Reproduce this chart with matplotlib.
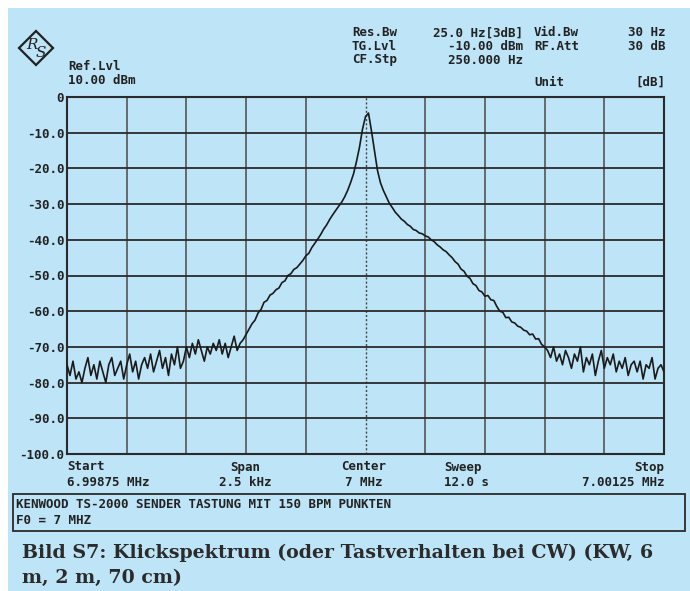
import matplotlib
matplotlib.use("Agg")
import matplotlib.pyplot as plt
import numpy as np
from matplotlib.patches import Rectangle, Polygon

# Sweep settings (offset from 7 MHz, Hz)
start_hz = -1250.0
stop_hz = 1250.0

# Trace levels in dB at 12.5 Hz steps (201 points)
levels = [
    -75, -78, -74, -79, -77, -80, -76, -73, -78, -75,
    -79, -74, -77, -80, -75, -73, -78, -76, -74, -79,
    -75, -72, -77, -74, -79, -75, -73, -76, -72, -77,
    -74, -71, -76, -73, -78, -72, -75, -70, -76, -74,
    -70, -73, -69, -72, -68, -71, -74, -70, -72, -69,
    -71, -68, -72, -69, -73, -70, -67, -71, -69, -68,
    -66.5, -65, -63.5, -62.5, -60.5, -59.5, -57.5, -57, -55.5, -55,
    -54, -53.5, -52, -51.5, -50, -49.5, -48.3, -47.8, -46.8, -45.8,
    -44.5, -43.8, -42.2, -41, -39.8, -38.5, -37, -35.8, -34.3, -33,
    -31.8, -30.6, -29.5, -28, -26.2, -24, -21.5, -18, -14, -9,
    -5.5, -4.5, -9.5, -15, -20.5, -24, -26.2, -28, -29.8, -31,
    -32.3, -33.2, -34.2, -34.8, -35.7, -36.2, -37.1, -37.4, -38.1, -38.3,
    -38.9, -39.2, -40, -40.5, -41.4, -42, -42.8, -43.3, -44.2, -45,
    -46.1, -46.8, -48.2, -48.8, -50.2, -50.8, -52.3, -52.8, -54.2, -54.6,
    -55.8, -55.6, -56.8, -57, -58.7, -60, -60.3, -61.8, -61.7, -63,
    -63.3, -64.2, -64.5, -65.3, -65.6, -66.6, -66.4, -67.8, -67.7, -69.3, -70,
    -71, -73, -70, -74, -72, -75, -71, -73, -76, -72,
    -74, -70, -77, -73, -75, -72, -78, -74, -71, -76,
    -73, -75, -72, -77, -74, -76, -73, -78, -75, -74,
    -77, -74, -79, -75, -76, -73, -79, -76, -75, -77,
]

y_ticks = [0, -10, -20, -30, -40, -50, -60, -70, -80, -90, -100]
y_tick_labels = ["0", "-10.0", "-20.0", "-30.0", "-40.0", "-50.0",
                 "-60.0", "-70.0", "-80.0", "-90.0", "-100.0"]

W, H = 690, 591
blue = "#bee4f7"
ink = "#222222"
mono = "DejaVu Sans Mono"

def fx(x):
    return x / W

def fy(y):
    return 1 - y / H

fig = plt.figure(figsize=(W / 100, H / 100), dpi=100)
fig.patch.set_facecolor("white")
fig.add_artist(Rectangle((fx(8), 0), 1 - fx(8), fy(8), transform=fig.transFigure,
                         facecolor=blue, edgecolor="none", zorder=0))

ax = fig.add_axes([fx(67), fy(454), fx(664) - fx(67), fy(97) - fy(454)])
ax.set_facecolor(blue)

freq = np.linspace(start_hz, stop_hz, len(levels))
ax.set_xlim(start_hz, stop_hz)
ax.set_ylim(-100, 0)

# graticule
for xv in np.linspace(start_hz, stop_hz, 11)[1:-1]:
    if abs(xv) < 1e-9:
        ax.axvline(xv, color="#444444", lw=1.0, ls=(0, (1.5, 1.5)), zorder=1)
    else:
        ax.axvline(xv, color="#555555", lw=1.2, zorder=1)
for yv in y_ticks[1:-1]:
    ax.axhline(yv, color="#2a2a2a", lw=1.3, zorder=1)
for s in ax.spines.values():
    s.set_color("#2a2a2a")
    s.set_linewidth(1.5)

ax.plot(freq, levels, color="#1a1a1a", lw=1.2, zorder=3)

ax.set_xticks([])
ax.set_yticks(y_ticks)
ax.set_yticklabels(y_tick_labels, fontfamily=mono, fontsize=9, fontweight="bold", color=ink)
ax.tick_params(axis="y", length=0, pad=2)

# header
def t(x, y, s, ha="left", **kw):
    fig.text(fx(x), fy(y), s, ha=ha, va="center", fontfamily=mono, fontsize=9,
             fontweight="bold", color=ink, **kw)

t(68, 66, "Ref.Lvl")
t(68, 80, "10.00 dBm")
t(352, 33, "Res.Bw")
t(352, 47, "TG.Lvl")
t(352, 60, "CF.Stp")
t(523, 33, "25.0 Hz[3dB]", ha="right")
t(523, 47, "-10.00 dBm", ha="right")
t(523, 60, "250.000 Hz", ha="right")
t(534, 33, "Vid.Bw")
t(534, 47, "RF.Att")
t(665, 33, "30 Hz", ha="right")
t(665, 47, "30 dB", ha="right")
t(534, 82, "Unit")
t(665, 82, "[dB]", ha="right")

# footer of the screen
t(67, 467, "Start")
t(67, 482, "6.99875 MHz")
t(245, 467, "Span", ha="center")
t(245, 482, "2.5 kHz", ha="center")
t(364, 467, "Center", ha="center")
t(364, 482, "7 MHz", ha="center")
t(444, 467, "Sweep")
t(444, 482, "12.0 s")
t(664, 467, "Stop", ha="right")
t(664, 482, "7.00125 MHz", ha="right")

fig.add_artist(Rectangle((fx(13), fy(531)), fx(685) - fx(13), fy(494) - fy(531),
                         transform=fig.transFigure, facecolor="none",
                         edgecolor="#2a2a2a", lw=1.3))
t(16, 505, "KENWOOD TS-2000 SENDER TASTUNG MIT 150 BPM PUNKTEN")
t(16, 520, "F0 = 7 MHZ")

# R&S logo
lx, ly, r = 36, 48, 17
fig.add_artist(Polygon([(fx(lx), fy(ly - r)), (fx(lx + r), fy(ly)), (fx(lx), fy(ly + r)),
                        (fx(lx - r), fy(ly))], closed=True, transform=fig.transFigure,
                       facecolor="none", edgecolor=ink, lw=1.6))
fig.text(fx(lx - 4), fy(ly - 3), "R", ha="center", va="center", fontsize=11,
         fontfamily="DejaVu Serif", fontstyle="italic", color=ink)
fig.text(fx(lx + 5), fy(ly + 5), "S", ha="center", va="center", fontsize=11,
         fontfamily="DejaVu Serif", fontstyle="italic", color=ink)

# caption, sized so the first line spans the same width as on the page
cap = dict(ha="left", va="center", fontfamily="DejaVu Serif", fontweight="bold",
           fontsize=14, color="#2b2b2b")
c1 = fig.text(fx(22), fy(553), "Bild S7: Klickspektrum (oder Tastverhalten bei CW) (KW, 6", **cap)
c2 = fig.text(fx(22), fy(578), "m, 2 m, 70 cm)", **cap)
renderer = fig.canvas.get_renderer()
wpx = c1.get_window_extent(renderer).width
size = 14 * 633 / wpx
c1.set_fontsize(size)
c2.set_fontsize(size)

fig.savefig("out.png", dpi=100, facecolor=fig.get_facecolor())
